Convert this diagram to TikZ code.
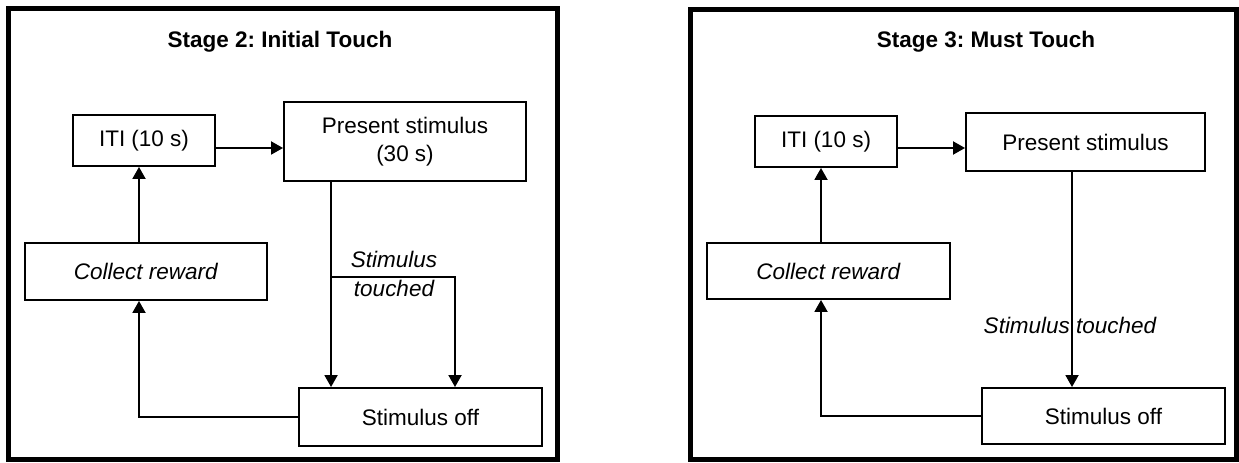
\documentclass[tikz,border=0pt]{standalone}
\usepackage{fontspec}
\setmainfont{Liberation Sans}
\usepackage{tikz}
\usetikzlibrary{arrows.meta, positioning, calc}
\frenchspacing

\begin{document}
\begin{tikzpicture}[
  every node/.style={font=\fontsize{12.8}{16}\selectfont},
  frame/.style={draw, line width=2.4pt},
  title/.style={font=\fontsize{12.8}{16}\selectfont\bfseries},
  box/.style={draw, line width=1.1pt, minimum width=4.84cm, minimum height=1.14cm, inner sep=2pt, align=center},
  cond/.style={font=\fontsize{12.8}{16}\selectfont\itshape, align=center, inner sep=0pt},
  arrow/.style={-{Triangle[length=0.24cm, width=0.26cm]}, line width=1.1pt}
]
  \useasboundingbox (0,0) rectangle (24.78, 9.24);

  % Stage 2
  \draw[frame] (0.17, 0.05) rectangle (11.15, 9.07);
  \node[title] (t2) at (5.60, 8.40) {Stage 2: Initial Touch};

  \node[box, minimum width=2.84cm, minimum height=1.02cm] (iti2) at (2.88, 6.43) {ITI (10 s)};
  \node[box, minimum height=1.58cm] (pres2) at (8.10, 6.41) {Present stimulus\\(30 s)};
  \node[box] (coll2) at (2.92, 3.81) {\textit{Collect reward}};
  \node[box, minimum width=4.86cm, minimum height=1.16cm] (off2) at (8.41, 0.90) {Stimulus off};
  \node[cond] (tch2) at (7.88, 3.76) {Stimulus\\touched};
  \coordinate (br2) at (9.10, 3.70);
  \coordinate (down2) at ([xshift=0.96cm]pres2.south west);

  \draw[arrow] ([yshift=-0.15cm]iti2.east) -- ([yshift=-0.15cm]iti2.east -| pres2.west);
  \draw[arrow] ([xshift=-0.14cm]coll2.north) -- ([xshift=-0.14cm]coll2.north |- iti2.south);
  \draw[arrow] (down2) -- (down2 |- off2.north);
  \draw[arrow] (down2 |- br2) -| (br2 |- off2.north);
  \draw[arrow] (off2.west) -| ([xshift=-0.14cm]coll2.south);

  % Stage 3
  \draw[frame] (13.81, 0.05) rectangle (24.73, 9.05);
  \node[title] (t3) at (19.72, 8.40) {Stage 3: Must Touch};

  \node[box, minimum width=2.84cm, minimum height=1.02cm] (iti3) at (16.52, 6.41) {ITI (10 s)};
  \node[box, minimum width=4.78cm, minimum height=1.16cm] (pres3) at (21.71, 6.40) {Present stimulus};
  \node[box, minimum width=4.86cm, minimum height=1.12cm] (coll3) at (16.57, 3.82) {\textit{Collect reward}};
  \node[box, minimum width=4.86cm, minimum height=1.12cm] (off3) at (22.07, 0.92) {Stimulus off};
  \node[cond] (tch3) at (21.40, 2.74) {Stimulus touched};

  \draw[arrow] ([yshift=-0.13cm]iti3.east) -- ([yshift=-0.13cm]iti3.east -| pres3.west);
  \draw[arrow] ([xshift=-0.15cm]coll3.north) -- ([xshift=-0.15cm]coll3.north |- iti3.south);
  \draw[arrow] ([xshift=-0.27cm]pres3.south) -- ([xshift=-0.27cm]pres3.south |- off3.north);
  \draw[arrow] (off3.west) -| ([xshift=-0.15cm]coll3.south);

\end{tikzpicture}
\end{document}
